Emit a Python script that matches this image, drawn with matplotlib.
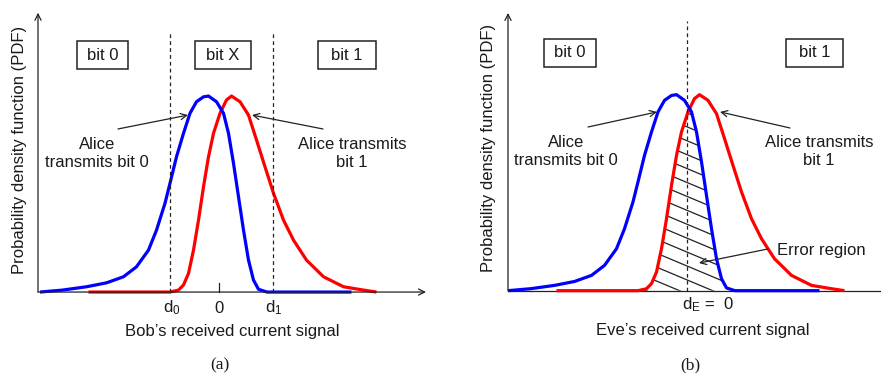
import numpy as np
import matplotlib
matplotlib.use('Agg')
import matplotlib.pyplot as plt
from matplotlib.patches import Rectangle, Polygon

plt.rcParams['font.family'] = 'Liberation Sans'
plt.rcParams['mathtext.fontset'] = 'custom'
plt.rcParams['mathtext.rm'] = 'Liberation Sans'
plt.rcParams['mathtext.it'] = 'Liberation Sans:italic'
plt.rcParams['text.color'] = '#1a1a1a'

# PDF of the received current when Alice sends bit 0 (signal units, peak = 1)
bit0_x = [-3.58, -3.13, -2.65, -2.25, -1.91, -1.65, -1.41, -1.25, -1.08, -0.98,
          -0.85, -0.71, -0.58, -0.45, -0.31, -0.21, -0.05, 0.09, 0.19, 0.29,
          0.39, 0.49, 0.59, 0.69, 0.79, 0.96, 2.65]
bit0_pdf = [0.0, 0.010, 0.027, 0.047, 0.078, 0.129, 0.214, 0.316, 0.453, 0.555,
            0.690, 0.810, 0.912, 0.971, 0.996, 1.0, 0.971, 0.912, 0.810, 0.657,
            0.486, 0.316, 0.163, 0.061, 0.014, 0.0, 0.0]

# PDF of the received current when Alice sends bit 1
bit1_x = [-2.61, -0.98, -0.81, -0.71, -0.61, -0.51, -0.41, -0.31, -0.21, -0.11,
          0.02, 0.15, 0.25, 0.42, 0.59, 0.75, 0.92, 1.09, 1.29, 1.49,
          1.75, 2.09, 2.49, 2.89, 3.15]
bit1_pdf = [0.0, 0.0, 0.010, 0.036, 0.095, 0.214, 0.367, 0.537, 0.690, 0.810,
            0.912, 0.980, 1.0, 0.971, 0.903, 0.776, 0.639, 0.504, 0.367, 0.265,
            0.163, 0.078, 0.027, 0.010, 0.0]

# decision thresholds
d0, d1 = -0.98, 1.08
d_eve = 0.0

bob_regions = ['bit 0', 'bit X', 'bit 1']
eve_regions = ['bit 0', 'bit 1']

AX_COL = '#222222'
FS = 12

fig = plt.figure(figsize=(8.81, 3.73), dpi=100)
ax_a = fig.add_axes([0, 0, 440 / 881, 1])
ax_b = fig.add_axes([440 / 881, 0, 441 / 881, 1])
ax_a.set_xlim(-4.38, 4.42)
ax_a.set_ylim(-0.413, 1.490)
ax_b.set_xlim(-4.94, 3.88)
ax_b.set_ylim(-0.420, 1.483)


def arrow(ax, start, end, lw=0.9):
    ax.annotate('', xy=end, xytext=start,
                arrowprops=dict(arrowstyle='->', color=AX_COL, lw=lw,
                                shrinkA=0, shrinkB=0, mutation_scale=11))


def box(ax, cx, cy, w, label):
    h = 0.143
    ax.add_patch(Rectangle((cx - w / 2, cy - h / 2), w, h, fill=False,
                           edgecolor=AX_COL, lw=1.1))
    ax.text(cx, cy, label, ha='center', va='center', fontsize=FS)


def common(ax, y_left, x_right, ytop, x_arrow=True):
    ax.axis('off')
    # axes with arrow heads
    arrow(ax, (y_left, 0), (y_left, ytop))
    if x_arrow:
        arrow(ax, (y_left, 0), (x_right, 0))
    else:
        ax.plot([y_left, x_right], [0, 0], color=AX_COL, lw=0.9)
    ax.plot(bit1_x, bit1_pdf, color='#ff0000', lw=2.3,
            solid_capstyle='butt', solid_joinstyle='round')
    ax.plot(bit0_x, bit0_pdf, color='#0000ff', lw=2.3,
            solid_capstyle='butt', solid_joinstyle='round')


# ---- (a) Bob ----
common(ax_a, -3.62, 4.14, 1.425)
for d in (d0, d1):
    ax_a.plot([d, d], [0, 1.327], color=AX_COL, lw=0.9, ls=(0, (3, 2.5)))
ax_a.plot([0, 0], [0, 0.046], color=AX_COL, lw=0.9)
for cx, w, lab in zip([-2.33, 0.08, 2.56], [1.02, 1.12, 1.16], bob_regions):
    box(ax_a, cx, 1.209, w, lab)
ax_a.text(-2.44, 0.707, 'Alice\ntransmits bit 0', ha='center', va='center',
          fontsize=FS, linespacing=1.25)
ax_a.text(2.66, 0.707, 'Alice transmits\nbit 1', ha='center', va='center',
          fontsize=FS, linespacing=1.25)
arrow(ax_a, (-2.02, 0.832), (-0.62, 0.903))
arrow(ax_a, (2.08, 0.832), (0.66, 0.903))
ax_a.text(d0 + 0.04, -0.082, r'd$_\mathrm{0}$', ha='center', va='center', fontsize=FS)
ax_a.text(0, -0.082, '0', ha='center', va='center', fontsize=FS)
ax_a.text(d1 + 0.02, -0.082, r'd$_\mathrm{1}$', ha='center', va='center', fontsize=FS)
ax_a.text(0.26, -0.199, 'Bob’s received current signal', ha='center', va='center',
          fontsize=FS)
ax_a.text(-3.98, 0.724, 'Probability density function (PDF)', rotation=90,
          ha='center', va='center', fontsize=FS)
ax_a.text(0.02, -0.372, '(a)', ha='center', va='center', fontsize=12.5,
          family='Liberation Serif')

# ---- (b) Eve ----
common(ax_b, -3.58, 3.9, 1.417, x_arrow=False)

# error region: overlap of the two PDFs, hatched with shallow lines
xs = np.linspace(min(bit1_x), max(bit0_x), 600)
overlap = np.minimum(np.interp(xs, bit0_x, bit0_pdf), np.interp(xs, bit1_x, bit1_pdf))
region = Polygon(np.column_stack([xs, overlap]), closed=True, fill=False,
                 edgecolor='none')
ax_b.add_patch(region)
for c in np.arange(0.055 - 0.071 * 3, 1.1, 0.071):
    ln, = ax_b.plot([-1.5, 1.5], [c + 0.107 * 1.5, c - 0.107 * 1.5],
                    color=AX_COL, lw=0.9, zorder=1)
    ln.set_clip_path(region)

ax_b.plot([d_eve, d_eve], [0, 1.376], color=AX_COL, lw=0.9, ls=(0, (3, 2.5)))
for cx, w, lab in zip([-2.34, 2.55], [1.04, 1.14], eve_regions):
    box(ax_b, cx, 1.213, w, lab)
ax_b.text(-2.42, 0.708, 'Alice\ntransmits bit 0', ha='center', va='center',
          fontsize=FS, linespacing=1.25)
ax_b.text(2.64, 0.708, 'Alice transmits\nbit 1', ha='center', va='center',
          fontsize=FS, linespacing=1.25)
arrow(ax_b, (-1.98, 0.835), (-0.60, 0.912))
arrow(ax_b, (2.06, 0.830), (0.66, 0.912))
ax_b.text(1.80, 0.203, 'Error region', ha='left', va='center', fontsize=FS)
arrow(ax_b, (1.62, 0.213), (0.24, 0.141))
ax_b.text(-0.10, -0.073, r'd$_\mathrm{E}$ =  0', ha='left', va='center', fontsize=FS)
ax_b.text(0.32, -0.205, 'Eve’s received current signal', ha='center', va='center',
          fontsize=FS)
ax_b.text(-3.98, 0.728, 'Probability density function (PDF)', rotation=90,
          ha='center', va='center', fontsize=FS)
ax_b.text(0.06, -0.38, '(b)', ha='center', va='center', fontsize=12.5,
          family='Liberation Serif')

fig.savefig('out.png', dpi=100)
